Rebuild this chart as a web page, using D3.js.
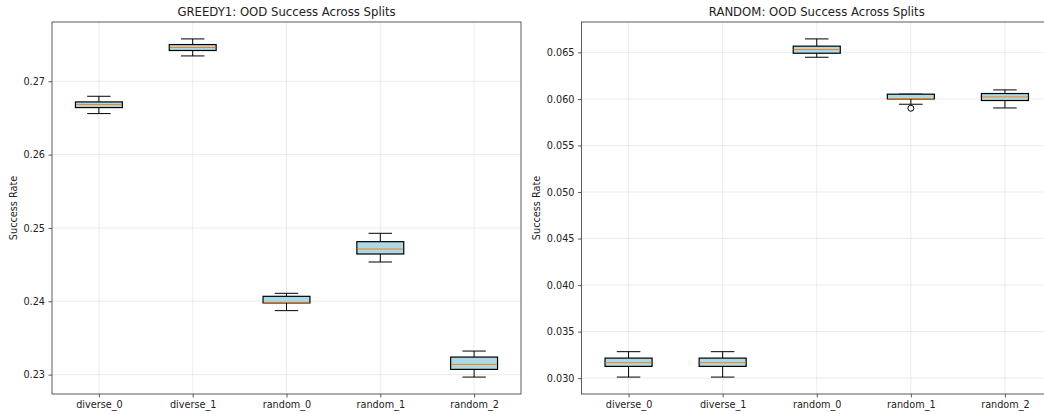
<!DOCTYPE html>
<html>
<head>
<meta charset="utf-8">
<script src="https://cdn.jsdelivr.net/npm/d3@7"></script>
<style>
  html, body { margin: 0; padding: 0; background: #fff; }
  svg { display: block; font-family: "DejaVu Sans", sans-serif; }
</style>
</head>
<body>
<svg id="chart" width="1044" height="414"></svg>
<script>
// Split names shared by both panels
const splits = ["diverse_0", "diverse_1", "random_0", "random_1", "random_2"];

// Box statistics per split: [lower whisker, Q1, median, Q3, upper whisker]
const greedyStats = [
  [0.26559, 0.26641, 0.26682, 0.26718, 0.26795],
  [0.27345, 0.27419, 0.27460, 0.27500, 0.27577],
  [0.23873, 0.23978, 0.23986, 0.24068, 0.24109],
  [0.24536, 0.24645, 0.24713, 0.24813, 0.24927],
  [0.22967, 0.23072, 0.23140, 0.23240, 0.23322]
];
const greedyOutliers = [[], [], [], [], []];
const greedyTicks = [0.23, 0.24, 0.25, 0.26, 0.27];

const randomStats = [
  [0.03011, 0.03126, 0.03166, 0.03215, 0.03284],
  [0.03011, 0.03126, 0.03166, 0.03215, 0.03284],
  [0.06448, 0.06491, 0.06531, 0.06567, 0.06645],
  [0.05943, 0.06000, 0.06004, 0.06051, 0.06051],
  [0.05903, 0.05983, 0.06022, 0.06058, 0.06097]
];
const randomOutliers = [[], [], [], [0.05900], []];
const randomTicks = [0.030, 0.035, 0.040, 0.045, 0.050, 0.055, 0.060, 0.065];

const svg = d3.select("#chart");

function drawPanel(cfg) {
  const { left, right, top, bottom, title, stats, outliers, ticks, fmt } = cfg;
  const g = svg.append("g");

  // y-limits padded by 5% of the data span
  const all = stats.flat().concat(outliers.flat());
  const lo = d3.min(all), hi = d3.max(all), pad = (hi - lo) * 0.05;
  const y = d3.scaleLinear().domain([lo - pad, hi + pad]).range([bottom, top]);
  const x = d3.scaleLinear().domain([0.5, splits.length + 0.5]).range([left, right]);
  const boxW = x(1.5) - x(1);

  const clip = "clip-" + title.replace(/[^A-Za-z]/g, "");
  svg.append("clipPath").attr("id", clip)
    .append("rect").attr("x", left).attr("y", top)
    .attr("width", right - left).attr("height", bottom - top);

  // grid
  const grid = g.append("g").attr("clip-path", `url(#${clip})`);
  grid.selectAll("line.gy").data(ticks).join("line")
    .attr("x1", left).attr("x2", right)
    .attr("y1", d => y(d)).attr("y2", d => y(d))
    .attr("stroke", "#b0b0b0").attr("stroke-opacity", 0.3).attr("stroke-width", 0.8);
  grid.selectAll("line.gx").data(splits).join("line")
    .attr("x1", (d, i) => x(i + 1)).attr("x2", (d, i) => x(i + 1))
    .attr("y1", top).attr("y2", bottom)
    .attr("stroke", "#b0b0b0").attr("stroke-opacity", 0.3).attr("stroke-width", 0.8);

  // boxes
  const boxes = g.append("g").selectAll("g").data(stats).join("g");
  boxes.each(function (s, i) {
    const b = d3.select(this);
    const cx = x(i + 1);
    const [wl, q1, med, q3, wh] = s;
    const stroke = "#000";
    b.append("line").attr("x1", cx).attr("x2", cx).attr("y1", y(q1)).attr("y2", y(wl))
      .attr("stroke", stroke).attr("stroke-width", 1);
    b.append("line").attr("x1", cx).attr("x2", cx).attr("y1", y(q3)).attr("y2", y(wh))
      .attr("stroke", stroke).attr("stroke-width", 1);
    b.append("line").attr("x1", cx - boxW / 4).attr("x2", cx + boxW / 4)
      .attr("y1", y(wl)).attr("y2", y(wl)).attr("stroke", stroke).attr("stroke-width", 1);
    b.append("line").attr("x1", cx - boxW / 4).attr("x2", cx + boxW / 4)
      .attr("y1", y(wh)).attr("y2", y(wh)).attr("stroke", stroke).attr("stroke-width", 1);
    b.append("rect").attr("x", cx - boxW / 2).attr("width", boxW)
      .attr("y", y(q3)).attr("height", y(q1) - y(q3))
      .attr("fill", "#add8e6").attr("stroke", stroke).attr("stroke-width", 1.2);
    b.append("line").attr("x1", cx - boxW / 2 + 0.6).attr("x2", cx + boxW / 2 - 0.6)
      .attr("y1", y(med)).attr("y2", y(med))
      .attr("stroke", "#ff7f0e").attr("stroke-width", 1);
    b.selectAll("circle").data(outliers[i]).join("circle")
      .attr("cx", cx).attr("cy", d => y(d)).attr("r", 3)
      .attr("fill", "none").attr("stroke", "#000").attr("stroke-width", 1);
  });

  // axes
  const yAxis = d3.axisLeft(y).tickValues(ticks).tickFormat(d3.format(fmt))
    .tickSize(3.5).tickPadding(3.5);
  const ya = g.append("g").attr("transform", `translate(${left},0)`).call(yAxis);
  const xAxis = d3.axisBottom(x).tickValues(splits.map((d, i) => i + 1))
    .tickFormat((d) => splits[d - 1]).tickSize(3.5).tickPadding(3.5);
  const xa = g.append("g").attr("transform", `translate(0,${bottom})`).call(xAxis);
  [ya, xa].forEach(a => {
    a.select(".domain").remove();
    a.selectAll(".tick line").attr("stroke", "#333").attr("stroke-width", 0.8);
    a.selectAll(".tick text").attr("fill", "#222").style("font-size", "9.7px")
      .style("font-family", "'DejaVu Sans', sans-serif");
  });

  // frame
  g.append("rect").attr("x", left).attr("y", top)
    .attr("width", right - left).attr("height", bottom - top)
    .attr("fill", "none").attr("stroke", "#333").attr("stroke-width", 0.8);

  // labels
  g.append("text").attr("x", (left + right) / 2).attr("y", top - 6.5)
    .attr("text-anchor", "middle").style("font-size", "11.7px").attr("fill", "#222")
    .text(title);
  g.append("text")
    .attr("transform", `translate(${cfg.ylabelX},${(top + bottom) / 2}) rotate(-90)`)
    .attr("text-anchor", "middle").style("font-size", "9.7px").attr("fill", "#222")
    .text("Success Rate");
}

drawPanel({
  left: 52, right: 521, top: 22, bottom: 394,
  title: "GREEDY1: OOD Success Across Splits",
  stats: greedyStats, outliers: greedyOutliers, ticks: greedyTicks, fmt: ".2f",
  ylabelX: 16.5
});
drawPanel({
  left: 581.5, right: 1052, top: 22, bottom: 394,
  title: "RANDOM: OOD Success Across Splits",
  stats: randomStats, outliers: randomOutliers, ticks: randomTicks, fmt: ".3f",
  ylabelX: 540
});
</script>
</body>
</html>
